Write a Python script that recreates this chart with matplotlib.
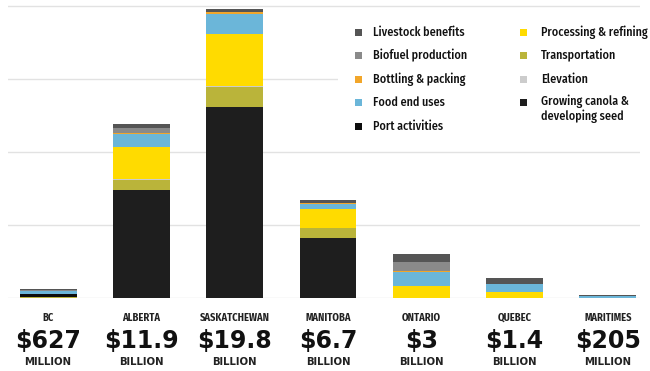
import matplotlib
matplotlib.use("Agg")
import matplotlib.pyplot as plt
from matplotlib.patches import Rectangle
from matplotlib.transforms import blended_transform_factory

# Regiones y etiquetas
regions = ['BC', 'ALBERTA', 'SASKATCHEWAN', 'MANITOBA', 'ONTARIO', 'QUEBEC', 'MARITIMES']
amounts = ['$627', '$11.9', '$19.8', '$6.7', '$3', '$1.4', '$205']
units = ['MILLION', 'BILLION', 'BILLION', 'BILLION', 'BILLION', 'BILLION', 'MILLION']

# Valores (miles de millones) por categoria, de abajo hacia arriba
growing = [0.03, 7.4, 13.1, 4.1, 0.0, 0.0, 0.0]
transport = [0.03, 0.68, 1.35, 0.66, 0.03, 0.03, 0.01]
port = [0.24, 0.0, 0.0, 0.0, 0.0, 0.0, 0.0]
elevation = [0.0, 0.05, 0.05, 0.04, 0.0, 0.0, 0.0]
processing = [0.0, 2.2, 3.6, 1.27, 0.8, 0.35, 0.0]
food = [0.19, 0.88, 1.35, 0.4, 0.95, 0.55, 0.1]
bottling = [0.01, 0.07, 0.15, 0.07, 0.07, 0.05, 0.005]
biofuel = [0.06, 0.37, 0.0, 0.0, 0.6, 0.0, 0.04]
livestock = [0.07, 0.25, 0.2, 0.16, 0.55, 0.42, 0.05]

series = [
    ('Growing canola &\ndeveloping seed', growing, '#1e1e1e'),
    ('Transportation', transport, '#bab43a'),
    ('Port activities', port, '#0d0d0d'),
    ('Elevation', elevation, '#cccccc'),
    ('Processing & refining', processing, '#ffdb00'),
    ('Food end uses', food, '#6bb6d9'),
    ('Bottling & packing', bottling, '#f2a62a'),
    ('Biofuel production', biofuel, '#8a8a8a'),
    ('Livestock benefits', livestock, '#555555'),
]
legend_order = ['Livestock benefits', 'Biofuel production', 'Bottling & packing',
                'Food end uses', 'Port activities', 'Processing & refining',
                'Transportation', 'Elevation', 'Growing canola &\ndeveloping seed']

narrow = ['Fira Sans Condensed', 'PT Sans Narrow', 'DejaVu Sans']

fig = plt.figure(figsize=(6.5, 3.71), dpi=100)
ax = fig.add_axes([8 / 650, 73 / 371, 632 / 650, 296.4 / 371])

x = list(range(len(regions)))
bottom = [0.0] * len(regions)
for name, vals, col in series:
    ax.bar(x, vals, width=0.61, bottom=bottom, color=col, linewidth=0, zorder=2)
    bottom = [b + v for b, v in zip(bottom, vals)]

ax.set_xlim(-0.43, 6.345)
ax.set_ylim(0, 20.3)
ax.set_yticks([0, 5, 10, 15, 20])
ax.grid(axis='y', color='#e2e2e2', linewidth=1.0)
ax.set_axisbelow(True)
ax.tick_params(left=False, bottom=False, labelleft=False, labelbottom=False)
for s in ax.spines.values():
    s.set_visible(False)

# Etiquetas debajo de las barras
tr = blended_transform_factory(ax.transData, fig.transFigure)
for i in x:
    ax.text(i, 1 - 318 / 371, regions[i], transform=tr, ha='center', va='center',
            fontsize=7.5, fontweight='bold', family=narrow, color='#222222')
    ax.text(i, 1 - 341 / 371, amounts[i], transform=tr, ha='center', va='center',
            fontsize=17, fontweight='bold', color='#111111')
    ax.text(i, 1 - 362 / 371, units[i], transform=tr, ha='center', va='center',
            fontsize=7.3, fontweight='bold', color='#222222')

# Leyenda manual
colors = {n: c for n, v, c in series}
fig.add_artist(Rectangle((338 / 650, 1 - 138 / 371), 305 / 650, 120 / 371,
                         transform=fig.transFigure, facecolor='white',
                         edgecolor='none', zorder=1))
for k, name in enumerate(legend_order):
    if k < 5:
        sx, tx, ty = 358, 373, 32 + k * 23.5
    else:
        sx, tx, ty = 523, 541, 32 + (k - 5) * 23.5
    fig.add_artist(Rectangle(((sx - 3.5) / 650, 1 - (ty + 3.5) / 371), 7 / 650, 7 / 371,
                             transform=fig.transFigure, facecolor=colors[name],
                             edgecolor='none', zorder=2))
    va = 'center'
    yy = ty
    if '\n' in name:
        va = 'top'
        yy = ty - 8
    fig.text(tx / 650, 1 - yy / 371, name, ha='left', va=va, fontsize=8.7,
             family=narrow, fontweight='medium', color='#111111',
             linespacing=1.1, zorder=3)

plt.savefig('out.png', dpi=100)
